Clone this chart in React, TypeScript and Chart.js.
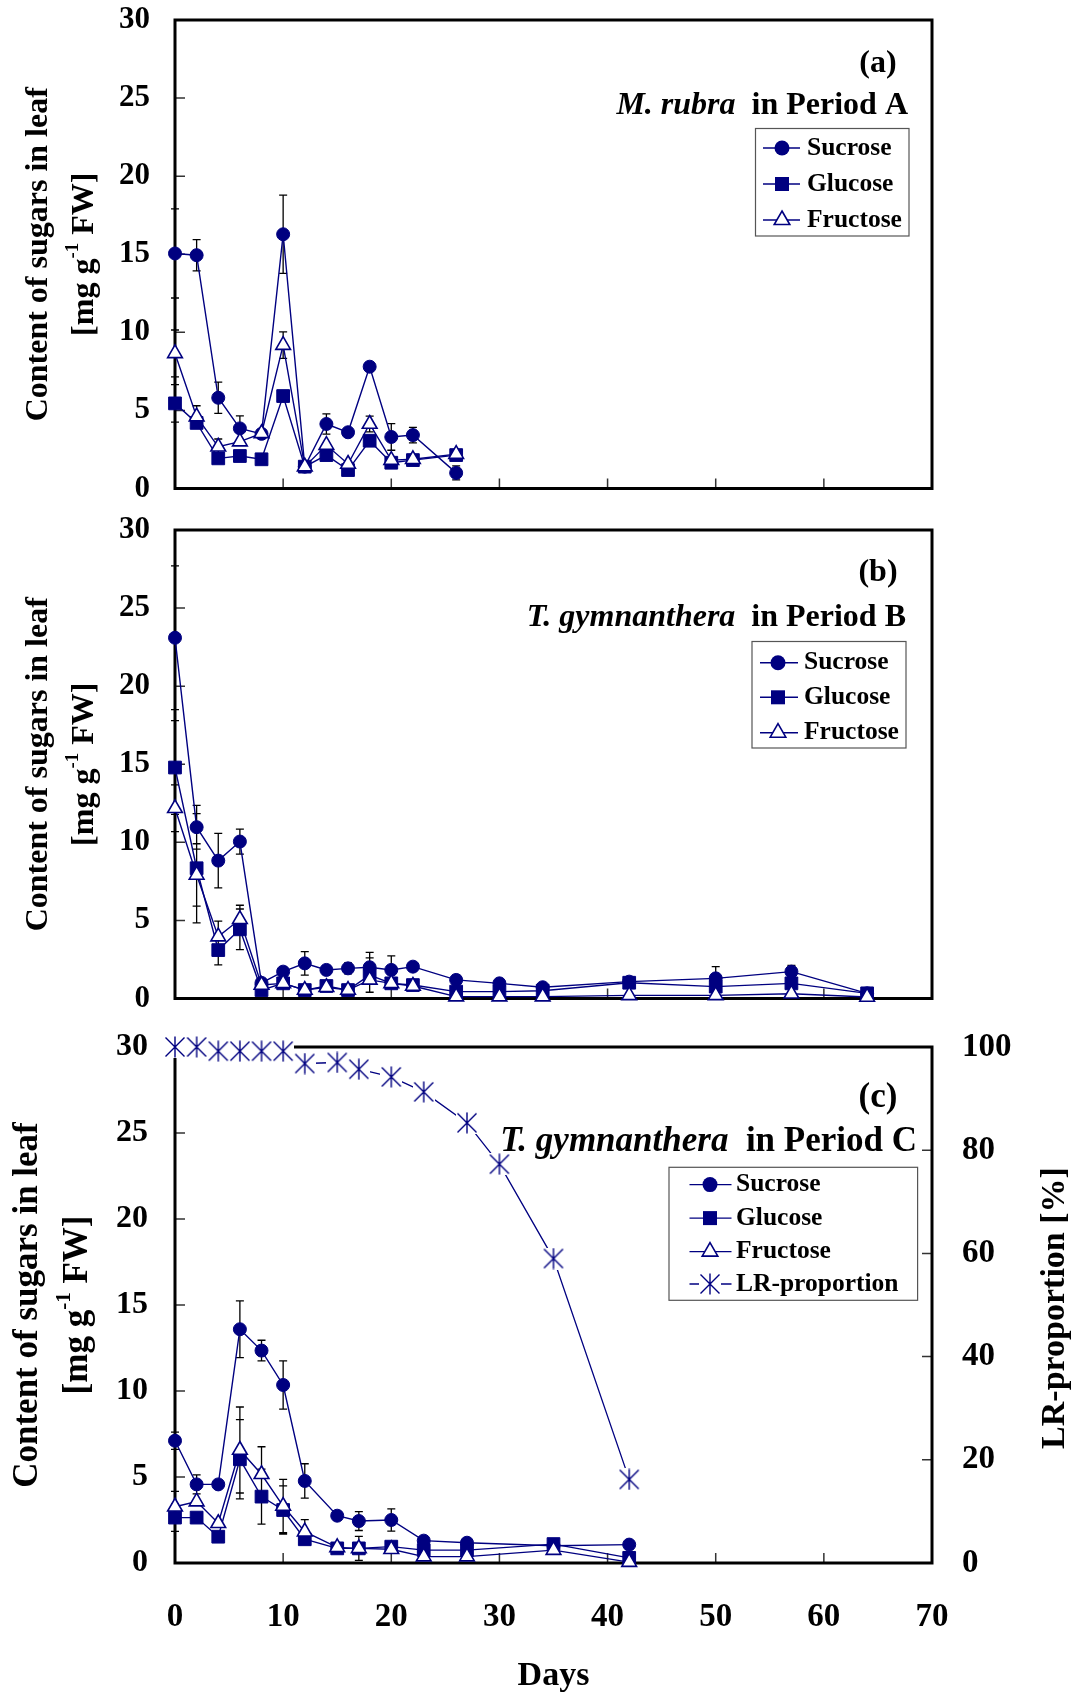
import React, { useEffect, useRef } from 'react';
import { Chart, registerables } from 'chart.js';

Chart.register(...registerables);

const NAVY = '#000080';
const SERIF = "'Liberation Serif', 'Times New Roman', Times, serif";
const PAGE_W = 1083;
const AREA_LEFT = 175;
const AREA_RIGHT = 932;

// ---------------- tick labels ----------------
const xTicks = [0, 10, 20, 30, 40, 50, 60, 70];
const sugarTicks = [0, 5, 10, 15, 20, 25, 30];
const lrTicks = [0, 20, 40, 60, 80, 100];

// ---------------- panel (a): M. rubra, Period A ----------------
const daysA = [0, 2, 4, 6, 8, 10, 12, 14, 16, 18, 20, 22, 26];
const sucroseA = [15.05, 14.94, 5.81, 3.85, 3.5, 16.28, 1.4, 4.13, 3.6, 7.8, 3.3, 3.42, 1.0];
const glucoseA = [5.45, 4.2, 1.93, 2.08, 1.87, 5.92, 1.4, 2.14, 1.18, 3.06, 1.65, 1.82, 2.14];
const fructoseA = [8.65, 4.6, 2.67, 3.0, 3.53, 9.18, 1.4, 2.78, 1.57, 4.13, 1.82, 1.87, 2.2];
const sucroseErrA = [2.85, 1.0, 1.0, 0.8, 0, 2.5, 0, 0.65, 0, 0, 0.85, 0.5, 0.45];
const glucoseErrA = [1.2, 0, 0, 0, 0, 0, 0, 0, 0, 0, 0, 0, 0];
const fructoseErrA = [1.5, 0.7, 0.5, 0, 0, 0.85, 0, 0, 0, 0.5, 0, 0, 0];

// ---------------- panel (b): T. gymnanthera, Period B ----------------
const daysB = [0, 2, 4, 6, 8, 10, 12, 14, 16, 18, 20, 22, 26, 30, 34, 42, 50, 57, 64];
const sucroseB = [23.1, 10.97, 8.83, 10.05, 1.0, 1.72, 2.25, 1.83, 1.93, 2.0, 1.83, 2.04, 1.19, 0.97, 0.72, 1.08, 1.29, 1.72, 0.33];
const glucoseB = [14.79, 8.34, 3.1, 4.43, 0.54, 0.97, 0.54, 0.8, 0.54, 1.5, 0.97, 0.86, 0.44, 0.44, 0.5, 1.01, 0.76, 0.97, 0.33];
const fructoseB = [12.18, 7.91, 3.96, 5.07, 0.86, 0.97, 0.54, 0.72, 0.54, 1.19, 0.97, 0.8, 0.12, 0.12, 0.12, 0.2, 0.2, 0.3, 0.1];
const sucroseErrB = [4.6, 1.4, 1.75, 0.8, 0, 0.3, 0.75, 0, 0.35, 0.95, 0.9, 0, 0.3, 0, 0, 0, 0.75, 0.4, 0];
const glucoseErrB = [3.0, 3.5, 0.95, 1.3, 0, 0, 0, 0, 0, 1.1, 0, 0, 0, 0, 0, 0, 0, 0, 0];
const fructoseErrB = [1.5, 2.0, 1.0, 0.9, 0, 0, 0, 0, 0, 0, 0, 0, 0, 0, 0, 0, 0, 0, 0];

// ---------------- panel (c): T. gymnanthera, Period C ----------------
const daysC = [0, 2, 4, 6, 8, 10, 12, 15, 17, 20, 23, 27, 35, 42];
const sucroseC = [7.11, 4.57, 4.57, 13.59, 12.35, 10.35, 4.77, 2.75, 2.44, 2.5, 1.3, 1.18, 1.0, 1.07];
const glucoseC = [2.64, 2.64, 1.53, 6.03, 3.86, 3.08, 1.38, 0.85, 0.85, 0.95, 0.75, 0.75, 1.1, 0.3];
const fructoseC = [3.27, 3.57, 2.31, 6.57, 5.16, 3.31, 1.82, 0.91, 0.85, 0.8, 0.37, 0.37, 0.75, 0.05];
const sucroseErrC = [0.5, 0.55, 0, 1.65, 0.6, 1.4, 1.0, 0, 0.55, 0.65, 0, 0, 0, 0];
const glucoseErrC = [0.8, 0, 0, 2.3, 1.6, 1.4, 0, 0, 0.7, 0, 0, 0, 0, 0];
const fructoseErrC = [0.9, 0, 0, 2.5, 1.6, 1.55, 0.7, 0, 0, 0, 0, 0, 0, 0];
const lrDays = [0, 2, 4, 6, 8, 10, 12, 15, 17, 20, 23, 27, 30, 35, 42];
const lrProportion = [100, 100, 99.2, 99.2, 99.2, 99.2, 96.8, 97, 95.7, 94.2, 91.3, 85.3, 77.3, 59, 16.2];

// ---------------- helpers ----------------
type Kind = 'circle' | 'square' | 'triangle' | 'star';
type ErrSeries = { days: number[]; vals: number[]; errs: number[] };
type Deco = {
  errors: ErrSeries[];
  tag: string;
  tagX: number;
  tagY: number;
  species: string;
  period: string;
  titleRight: number;
  titleY: number;
  titleSize: number;
  legendBox: [number, number, number, number];
  legendRowsY: number[];
  legendKinds: Kind[];
  legendLabels: string[];
  legendMarkerX: number;
  legendLine: [number, number];
  legendTextX: number;
  yTitleX: [number, number];
  yTitleSize: number;
  extra?: (ctx: CanvasRenderingContext2D, chart: any) => void;
};

let starCache: HTMLCanvasElement | null = null;
function starImage(): HTMLCanvasElement {
  if (starCache) return starCache;
  const c = document.createElement('canvas');
  c.width = 22;
  c.height = 22;
  const g = c.getContext('2d')!;
  g.fillStyle = '#ffffff';
  g.fillRect(0, 0, 22, 22);
  g.strokeStyle = NAVY;
  g.lineWidth = 1.4;
  g.beginPath();
  g.moveTo(1.5, 1.5);
  g.lineTo(20.5, 20.5);
  g.moveTo(20.5, 1.5);
  g.lineTo(1.5, 20.5);
  g.moveTo(11, 0.5);
  g.lineTo(11, 21.5);
  g.stroke();
  starCache = c;
  return c;
}

const pts = (days: number[], vals: number[]) => days.map((d, i) => ({ x: d, y: vals[i] }));

function sugarDatasets(days: number[], suc: number[], glu: number[], fru: number[]) {
  const common = {
    borderColor: NAVY,
    borderWidth: 1.4,
    pointBorderColor: NAVY,
    clip: false,
    yAxisID: 'y',
    tension: 0,
  };
  return [
    { ...common, label: 'Sucrose', data: pts(days, suc), pointStyle: 'circle', pointRadius: 6.5, pointBorderWidth: 1, pointBackgroundColor: NAVY, backgroundColor: NAVY, order: 3 },
    { ...common, label: 'Glucose', data: pts(days, glu), pointStyle: 'rect', pointRadius: 9, pointBorderWidth: 1, pointBackgroundColor: NAVY, backgroundColor: NAVY, order: 2 },
    { ...common, label: 'Fructose', data: pts(days, fru), pointStyle: 'triangle', pointRadius: 8.5, pointBorderWidth: 1.6, pointBackgroundColor: '#ffffff', backgroundColor: '#ffffff', order: 1 },
  ];
}

function drawMarker(ctx: CanvasRenderingContext2D, kind: Kind, x: number, y: number) {
  ctx.save();
  ctx.fillStyle = NAVY;
  ctx.strokeStyle = NAVY;
  ctx.lineWidth = 1.6;
  if (kind === 'circle') {
    ctx.beginPath();
    ctx.arc(x, y, 7.5, 0, Math.PI * 2);
    ctx.fill();
  } else if (kind === 'square') {
    ctx.fillRect(x - 7, y - 7, 14, 14);
  } else if (kind === 'triangle') {
    const r = 9;
    ctx.beginPath();
    ctx.moveTo(x, y - r);
    ctx.lineTo(x + r * 0.866, y + r * 0.5);
    ctx.lineTo(x - r * 0.866, y + r * 0.5);
    ctx.closePath();
    ctx.fillStyle = '#ffffff';
    ctx.fill();
    ctx.stroke();
  } else {
    const img = starImage();
    ctx.drawImage(img, x - img.width / 2, y - img.height / 2);
  }
  ctx.restore();
}

function drawRotated(ctx: CanvasRenderingContext2D, cx: number, cy: number, parts: { t: string; sup?: boolean }[], size: number) {
  ctx.save();
  ctx.translate(cx, cy);
  ctx.rotate(-Math.PI / 2);
  ctx.fillStyle = '#000';
  ctx.textBaseline = 'middle';
  ctx.textAlign = 'left';
  const fontFor = (p: { sup?: boolean }) => `bold ${p.sup ? Math.round(size * 0.6) : size}px ${SERIF}`;
  let total = 0;
  const widths = parts.map((p) => {
    ctx.font = fontFor(p);
    const w = ctx.measureText(p.t).width;
    total += w;
    return w;
  });
  let x = -total / 2;
  parts.forEach((p, i) => {
    ctx.font = fontFor(p);
    ctx.fillText(p.t, x, p.sup ? -size * 0.38 : 0);
    x += widths[i];
  });
  ctx.restore();
}

function decoPlugin(d: Deco) {
  return {
    id: 'panelDeco',
    beforeDatasetsDraw(chart: any) {
      const { ctx, chartArea: a, scales } = chart;
      ctx.save();
      // inner tick marks
      ctx.strokeStyle = '#333';
      ctx.lineWidth = 1.5;
      ctx.beginPath();
      for (const t of scales.y.ticks) {
        if (t.value <= scales.y.min || t.value >= scales.y.max) continue;
        const y = scales.y.getPixelForValue(t.value);
        ctx.moveTo(a.left, y);
        ctx.lineTo(a.left + 10, y);
      }
      for (const t of scales.x.ticks) {
        if (t.value <= scales.x.min || t.value >= scales.x.max) continue;
        const x = scales.x.getPixelForValue(t.value);
        ctx.moveTo(x, a.bottom);
        ctx.lineTo(x, a.bottom - 10);
      }
      if (scales.y2) {
        for (const t of scales.y2.ticks) {
          if (t.value <= scales.y2.min || t.value >= scales.y2.max) continue;
          const y = scales.y2.getPixelForValue(t.value);
          ctx.moveTo(a.right, y);
          ctx.lineTo(a.right - 10, y);
        }
      }
      ctx.stroke();
      // frame
      ctx.strokeStyle = '#000';
      ctx.lineWidth = 3;
      ctx.strokeRect(a.left, a.top, a.right - a.left, a.bottom - a.top);
      // error bars
      ctx.strokeStyle = '#000';
      ctx.lineWidth = 1.3;
      ctx.beginPath();
      for (const s of d.errors) {
        s.days.forEach((day, i) => {
          const e = s.errs[i];
          if (!e) return;
          const x = scales.x.getPixelForValue(day);
          const yt = scales.y.getPixelForValue(s.vals[i] + e);
          const yb = scales.y.getPixelForValue(Math.max(0, s.vals[i] - e));
          ctx.moveTo(x, yt);
          ctx.lineTo(x, yb);
          ctx.moveTo(x - 4, yt);
          ctx.lineTo(x + 4, yt);
          ctx.moveTo(x - 4, yb);
          ctx.lineTo(x + 4, yb);
        });
      }
      ctx.stroke();
      ctx.restore();
    },
    afterDraw(chart: any) {
      const ctx: CanvasRenderingContext2D = chart.ctx;
      const a = chart.chartArea;
      ctx.save();
      ctx.fillStyle = '#000';
      // panel tag
      ctx.font = `bold ${d.titleSize}px ${SERIF}`;
      ctx.textAlign = 'center';
      ctx.textBaseline = 'alphabetic';
      ctx.fillText(d.tag, d.tagX, d.tagY);
      // species + period
      ctx.textAlign = 'right';
      ctx.fillText(d.period, d.titleRight, d.titleY);
      const pw = ctx.measureText(d.period).width;
      ctx.font = `italic bold ${d.titleSize}px ${SERIF}`;
      ctx.fillText(d.species, d.titleRight - pw - d.titleSize * 0.5, d.titleY);
      // legend
      const [bx, by, bw, bh] = d.legendBox;
      ctx.fillStyle = '#ffffff';
      ctx.fillRect(bx, by, bw, bh);
      ctx.strokeStyle = '#555';
      ctx.lineWidth = 1.2;
      ctx.strokeRect(bx, by, bw, bh);
      d.legendRowsY.forEach((ry, i) => {
        ctx.strokeStyle = NAVY;
        ctx.lineWidth = 1.4;
        ctx.beginPath();
        ctx.moveTo(d.legendLine[0], ry);
        ctx.lineTo(d.legendLine[1], ry);
        ctx.stroke();
        drawMarker(ctx, d.legendKinds[i], d.legendMarkerX, ry);
        ctx.fillStyle = '#000';
        ctx.font = `bold 25.5px ${SERIF}`;
        ctx.textAlign = 'left';
        ctx.textBaseline = 'middle';
        ctx.fillText(d.legendLabels[i], d.legendTextX, ry);
      });
      // y title
      const cy = (a.top + a.bottom) / 2;
      drawRotated(ctx, d.yTitleX[0], cy, [{ t: 'Content of sugars in leaf' }], d.yTitleSize);
      drawRotated(ctx, d.yTitleX[1], cy, [{ t: '[mg g' }, { t: '-1', sup: true }, { t: ' FW]' }], d.yTitleSize);
      if (d.extra) d.extra(ctx, chart);
      ctx.restore();
    },
  };
}

function zeroPad(s: any) {
  s.paddingTop = 0;
  s.paddingBottom = 0;
  s.paddingLeft = 0;
  s.paddingRight = 0;
}

function buildOptions(o: { top: number; bottom: number; canvasH: number; yFont: number; yPad: number; showX: boolean; right: boolean }) {
  const font = (size: number) => ({ family: SERIF, size, weight: 'bold' as const });
  const scales: any = {
    x: {
      type: 'linear',
      min: 0,
      max: 70,
      position: 'bottom',
      afterBuildTicks: (s: any) => {
        s.ticks = xTicks.map((v) => ({ value: v }));
      },
      ticks: { display: o.showX, color: '#000', font: font(33), padding: 35, maxRotation: 0, autoSkip: false },
      grid: { display: false, drawTicks: false },
      border: { display: false },
      afterFit: (s: any) => {
        s.height = o.canvasH - o.bottom;
        zeroPad(s);
      },
    },
    y: {
      type: 'linear',
      min: 0,
      max: 30,
      position: 'left',
      afterBuildTicks: (s: any) => {
        s.ticks = sugarTicks.map((v) => ({ value: v }));
      },
      ticks: { color: '#000', font: font(o.yFont), padding: o.yPad, autoSkip: false },
      grid: { display: false, drawTicks: false },
      border: { display: false },
      afterFit: (s: any) => {
        s.width = AREA_LEFT;
        zeroPad(s);
      },
    },
  };
  if (o.right) {
    scales.y2 = {
      type: 'linear',
      min: 0,
      max: 100,
      position: 'right',
      afterBuildTicks: (s: any) => {
        s.ticks = lrTicks.map((v) => ({ value: v }));
      },
      ticks: { color: '#000', font: font(33), padding: 30, autoSkip: false },
      grid: { display: false, drawTicks: false },
      border: { display: false },
      afterFit: (s: any) => {
        s.width = PAGE_W - AREA_RIGHT;
        zeroPad(s);
      },
    };
  }
  return {
    responsive: false,
    animation: false,
    events: [],
    layout: { autoPadding: false, padding: { left: 0, right: o.right ? 0 : PAGE_W - AREA_RIGHT, top: o.top, bottom: 0 } },
    plugins: { legend: { display: false }, tooltip: { enabled: false }, title: { display: false } },
    scales,
  };
}

const SUGAR_LABELS = ['Sucrose', 'Glucose', 'Fructose'];
const SUGAR_KINDS: Kind[] = ['circle', 'square', 'triangle'];

// canvas bands
const A_TOP = 0, A_H = 510;
const B_TOP = 510, B_H = 515;
const C_TOP = 1025, C_H = 669;

function configA() {
  return {
    type: 'line',
    data: { datasets: sugarDatasets(daysA, sucroseA, glucoseA, fructoseA) },
    options: buildOptions({ top: 20, bottom: 488.5, canvasH: A_H, yFont: 31, yPad: 25, showX: false, right: false }),
    plugins: [
      decoPlugin({
        errors: [
          { days: daysA, vals: sucroseA, errs: sucroseErrA },
          { days: daysA, vals: glucoseA, errs: glucoseErrA },
          { days: daysA, vals: fructoseA, errs: fructoseErrA },
        ],
        tag: '(a)', tagX: 878, tagY: 72,
        species: 'M. rubra', period: 'in Period A', titleRight: 908, titleY: 114, titleSize: 32,
        legendBox: [755.5, 128.5, 153.5, 107.5], legendRowsY: [148, 184, 220],
        legendKinds: SUGAR_KINDS, legendLabels: SUGAR_LABELS,
        legendMarkerX: 782, legendLine: [763, 800], legendTextX: 807,
        yTitleX: [39, 85], yTitleSize: 32,
      }),
    ],
  };
}

function configB() {
  return {
    type: 'line',
    data: { datasets: sugarDatasets(daysB, sucroseB, glucoseB, fructoseB) },
    options: buildOptions({ top: 20, bottom: 488.5, canvasH: B_H, yFont: 31, yPad: 25, showX: false, right: false }),
    plugins: [
      decoPlugin({
        errors: [
          { days: daysB, vals: sucroseB, errs: sucroseErrB },
          { days: daysB, vals: glucoseB, errs: glucoseErrB },
          { days: daysB, vals: fructoseB, errs: fructoseErrB },
        ],
        tag: '(b)', tagX: 878, tagY: 71,
        species: 'T. gymnanthera', period: 'in Period B', titleRight: 906, titleY: 116, titleSize: 32,
        legendBox: [752, 131.5, 154, 106.5], legendRowsY: [152.7, 187.3, 222.7],
        legendKinds: SUGAR_KINDS, legendLabels: SUGAR_LABELS,
        legendMarkerX: 778, legendLine: [760, 798], legendTextX: 804,
        yTitleX: [39, 85], yTitleSize: 32,
      }),
    ],
  };
}

function configC() {
  const datasets: any[] = sugarDatasets(daysC, sucroseC, glucoseC, fructoseC);
  datasets.push({
    label: 'LR-proportion',
    data: pts(lrDays, lrProportion),
    yAxisID: 'y2',
    borderColor: NAVY,
    borderWidth: 1.3,
    pointStyle: starImage(),
    pointRadius: 10,
    clip: false,
    tension: 0,
    order: 0,
  });
  return {
    type: 'line',
    data: { datasets },
    options: buildOptions({ top: 22, bottom: 538, canvasH: C_H, yFont: 32, yPad: 27, showX: true, right: true }),
    plugins: [
      decoPlugin({
        errors: [
          { days: daysC, vals: sucroseC, errs: sucroseErrC },
          { days: daysC, vals: glucoseC, errs: glucoseErrC },
          { days: daysC, vals: fructoseC, errs: fructoseErrC },
        ],
        tag: '(c)', tagX: 878, tagY: 82,
        species: 'T. gymnanthera', period: 'in Period C', titleRight: 917, titleY: 126, titleSize: 35,
        legendBox: [669, 142.3, 248.6, 133], legendRowsY: [159.6, 193.1, 226.6, 259],
        legendKinds: [...SUGAR_KINDS, 'star'], legendLabels: [...SUGAR_LABELS, 'LR-proportion'],
        legendMarkerX: 710, legendLine: [689.5, 731.5], legendTextX: 736,
        yTitleX: [28, 78], yTitleSize: 35,
        extra: (ctx, chart) => {
          const a = chart.chartArea;
          drawRotated(ctx, 1055, (a.top + a.bottom) / 2 + 3, [{ t: 'LR-proportion [%]' }], 34);
          ctx.fillStyle = '#000';
          ctx.font = `bold 34px ${SERIF}`;
          ctx.textAlign = 'center';
          ctx.textBaseline = 'alphabetic';
          ctx.fillText('Days', (a.left + a.right) / 2, 660);
        },
      }),
    ],
  };
}

function Panel({ top, height, build }: { top: number; height: number; build: () => any }) {
  const ref = useRef<HTMLCanvasElement>(null);
  useEffect(() => {
    const chart = new Chart(ref.current as HTMLCanvasElement, build());
    return () => chart.destroy();
  }, []);
  return (
    <canvas
      ref={ref}
      width={PAGE_W}
      height={height}
      style={{ position: 'absolute', left: 0, top, width: PAGE_W, height, display: 'block' }}
    />
  );
}

export default function App() {
  return (
    <div style={{ position: 'absolute', left: 0, top: 0, width: PAGE_W, height: 1694, background: '#fff' }}>
      <Panel top={A_TOP} height={A_H} build={configA} />
      <Panel top={B_TOP} height={B_H} build={configB} />
      <Panel top={C_TOP} height={C_H} build={configC} />
    </div>
  );
}
